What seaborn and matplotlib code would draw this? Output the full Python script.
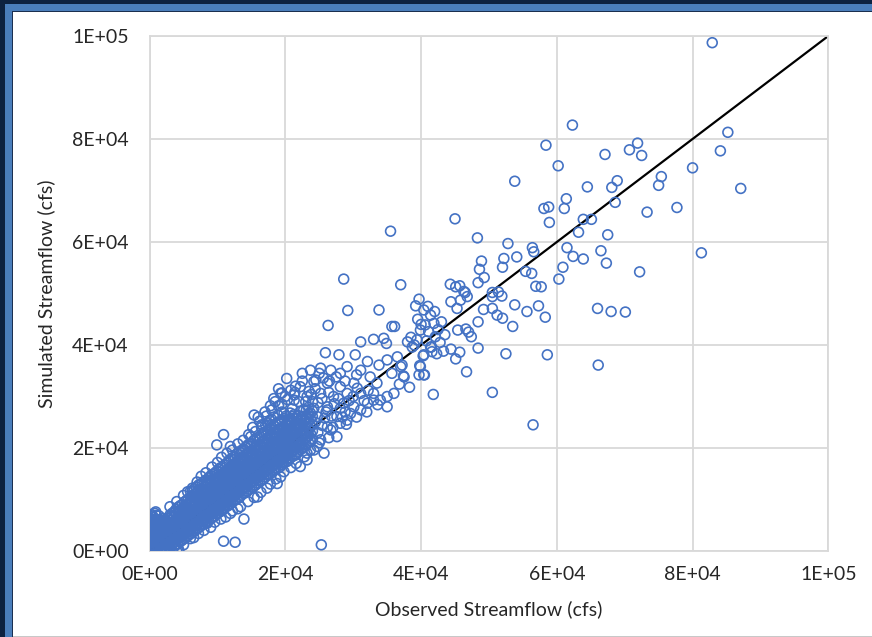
import numpy as np
import pandas as pd
import seaborn as sns
import matplotlib.pyplot as plt
from matplotlib.patches import Rectangle

# all flows in thousands of cfs, multiplied out before plotting

# dense band below ~12k: observed value of each column, simulated values in it
band_low_obs = [0.2, 0.6, 1.0, 1.5, 2.0, 2.5, 3.0, 3.6, 4.2, 4.8, 5.4,
                6.0, 6.6, 7.2, 7.8, 8.4, 9.0, 9.6, 10.2, 10.8, 11.4]
band_low_sim = [
    [0.1, 0.7, 1.5, 2.4, 3.3, 4.4, 5.3, 6.2, 7.1],
    [0.3, 1.1, 1.9, 2.7, 3.7, 4.6, 5.6, 6.5],
    [0.1, 0.8, 1.6, 2.3, 3.2, 4.2, 5.0, 5.9, 6.9],
    [0.2, 1.0, 2.0, 2.9, 3.9, 4.7, 5.7],
    [0.1, 0.9, 1.7, 2.8, 3.6, 4.5, 5.5, 6.3],
    [0.3, 1.2, 2.2, 3.1, 3.9, 4.9, 5.8],
    [0.4, 1.4, 2.2, 3.2, 4.1, 5.1, 6.0, 7.0],
    [0.8, 1.7, 2.8, 3.7, 4.8, 5.7, 6.7, 7.6],
    [1.4, 2.5, 3.4, 4.5, 5.4, 6.5, 7.4, 8.5],
    [2.1, 3.0, 4.1, 5.0, 6.1, 7.0, 8.1, 9.0],
    [2.6, 3.7, 4.6, 5.8, 6.7, 7.8, 8.6, 9.8],
    [3.3, 4.2, 5.4, 6.3, 7.4, 8.2, 9.4, 10.3],
    [3.8, 4.9, 5.8, 7.0, 7.9, 9.0, 9.8, 11.0, 12.1],
    [4.5, 5.4, 6.6, 7.5, 8.6, 9.5, 10.6, 11.5, 12.8],
    [5.1, 6.1, 7.0, 8.1, 9.0, 10.1, 11.1, 12.0, 13.3],
    [5.6, 6.7, 7.6, 8.7, 9.6, 10.7, 11.6, 12.8, 13.8],
    [6.3, 7.2, 8.3, 9.2, 10.3, 11.2, 12.3, 13.2, 14.6],
    [6.8, 7.9, 8.8, 9.9, 10.8, 11.9, 12.8, 14.0, 15.1],
    [7.5, 8.4, 9.5, 10.4, 11.5, 12.4, 13.5, 14.4, 15.9],
    [8.0, 9.1, 10.0, 11.1, 12.0, 13.1, 14.1, 15.1, 16.4],
    [8.7, 9.6, 10.7, 11.6, 12.7, 13.6, 14.7, 15.7, 17.1],
]

# dense band 12k - 24k
band_high_obs = [12.0, 12.6, 13.2, 13.8, 14.4, 15.0, 15.6, 16.2, 16.8, 17.4, 18.0,
                 18.6, 19.2, 19.8, 20.4, 21.0, 21.6, 22.2, 22.8, 23.4, 24.0]
band_high_sim = [
    [9.2, 10.3, 11.2, 12.3, 13.2, 14.3, 15.3, 16.3, 17.9],
    [9.9, 10.8, 11.9, 12.8, 13.9, 14.8, 15.9, 17.0, 18.3],
    [10.4, 11.6, 12.5, 13.6, 14.5, 15.6, 16.5, 17.8, 19.2],
    [11.2, 12.1, 13.2, 14.1, 15.2, 16.1, 17.2, 18.2, 19.7],
    [11.6, 12.8, 13.7, 14.8, 15.7, 16.8, 17.7, 19.0, 20.5],
    [12.4, 13.3, 14.4, 15.3, 16.4, 17.3, 18.4, 19.4, 20.9],
    [12.8, 14.0, 14.9, 16.0, 16.9, 18.0, 18.9, 20.2, 21.8],
    [13.6, 14.5, 15.6, 16.5, 17.6, 18.5, 19.6, 20.6, 22.2],
    [14.0, 15.2, 16.1, 17.2, 18.1, 19.2, 20.1, 21.4, 23.0],
    [14.8, 15.7, 16.8, 17.7, 18.8, 19.7, 20.8, 21.8, 23.4, 24.9],
    [15.2, 16.4, 17.3, 18.4, 19.3, 20.4, 21.3, 22.6, 24.0, 25.5],
    [16.0, 16.9, 18.0, 18.9, 20.0, 20.9, 22.0, 23.0, 24.7],
    [16.3, 17.5, 18.4, 19.5, 20.4, 21.5, 22.4, 23.7, 25.1],
    [17.1, 18.0, 19.1, 20.0, 21.1, 22.0, 23.1, 24.1, 25.7],
    [17.5, 18.8, 19.6, 20.8, 21.6, 22.8, 23.7, 25.1],
    [18.4, 19.3, 20.5, 21.3, 22.6, 23.5, 24.9, 26.1],
    [18.8, 20.1, 21.0, 22.2, 23.1, 24.5, 25.8],
    [19.7, 20.7, 22.1, 23.1, 24.5, 25.5, 27.1],
    [20.2, 21.7, 22.8, 24.2, 25.3],
    [21.1, 22.3, 23.9, 25.1, 26.7, 27.9],
    [21.7, 23.3, 24.5, 26.1, 27.2],
]

# second, staggered set of columns in the same band
band_mid_obs = [0.4, 0.8, 1.25, 1.75, 2.25, 2.75, 3.3, 3.9, 4.5, 5.1, 5.7,
                6.3, 6.9, 7.5, 8.1, 8.7, 9.3, 9.9, 10.5, 11.1, 11.7, 12.3,
                12.9, 13.5, 14.1, 14.7, 15.3, 15.9, 16.5, 17.1, 17.7, 18.3,
                18.9, 19.5, 20.1, 20.7, 21.3, 21.9, 22.5, 23.1, 23.7]
band_mid_sim = [
    [0.4, 1.2, 2.0, 2.9, 3.8, 4.8, 5.8, 6.8],
    [0.2, 1.0, 1.8, 2.6, 3.5, 4.4, 5.3, 6.2, 7.3],
    [0.5, 1.4, 2.5, 3.4, 4.4, 5.3, 6.1],
    [0.5, 1.4, 2.4, 3.3, 4.2, 5.1, 6.0],
    [0.5, 1.3, 2.4, 3.3, 4.2, 5.1, 6.0],
    [0.8, 1.7, 2.6, 3.6, 4.5, 5.4, 6.4],
    [1.0, 1.9, 2.8, 3.7, 4.7, 5.6, 6.6, 7.3],
    [1.2, 2.3, 3.2, 4.3, 5.2, 6.2, 7.2, 8.1],
    [1.8, 2.9, 3.9, 4.8, 5.9, 6.9, 7.8, 8.8],
    [2.4, 3.4, 4.5, 5.4, 6.5, 7.4, 8.4, 9.5],
    [3.0, 4.0, 5.0, 6.0, 7.1, 8.0, 9.1, 10.1],
    [3.6, 4.6, 5.6, 6.7, 7.7, 8.7, 9.7, 10.7, 11.6],
    [4.2, 5.2, 6.2, 7.2, 8.2, 9.3, 10.2, 11.3, 12.4],
    [4.8, 5.8, 6.8, 7.8, 8.8, 9.8, 10.9, 11.9, 13.0],
    [5.3, 6.4, 7.3, 8.4, 9.3, 10.4, 11.3, 12.4, 13.6],
    [6.0, 6.9, 8.0, 8.9, 10.0, 10.9, 12.0, 13.0, 14.2],
    [6.5, 7.6, 8.5, 9.6, 10.5, 11.6, 12.5, 13.6, 14.9],
    [7.2, 8.1, 9.2, 10.1, 11.2, 12.1, 13.2, 14.2, 15.5],
    [7.7, 8.8, 9.7, 10.8, 11.7, 12.8, 13.7, 14.8, 16.2],
    [8.4, 9.3, 10.4, 11.3, 12.4, 13.3, 14.4, 15.4, 16.8],
    [8.9, 10.0, 10.9, 12.0, 12.9, 14.0, 14.9, 16.0, 17.5],
    [9.6, 10.5, 11.6, 12.5, 13.6, 14.5, 15.6, 16.7, 18.2],
    [10.1, 11.2, 12.1, 13.2, 14.1, 15.2, 16.2, 17.4, 18.8],
    [10.8, 11.8, 12.8, 13.8, 14.8, 15.8, 16.9, 18.0, 19.5],
    [11.3, 12.4, 13.4, 14.4, 15.4, 16.4, 17.4, 18.6, 20.1],
    [12.0, 13.0, 14.0, 15.0, 16.0, 17.0, 18.1, 19.2, 20.8],
    [12.5, 13.6, 14.6, 15.6, 16.6, 17.7, 18.7, 19.9, 21.4],
    [13.2, 14.2, 15.2, 16.2, 17.2, 18.3, 19.3, 20.5, 22.0],
    [13.7, 14.8, 15.8, 16.8, 17.9, 18.9, 20.0, 21.1, 22.6, 24.0],
    [14.4, 15.4, 16.4, 17.4, 18.5, 19.5, 20.5, 21.7, 23.2, 24.4],
    [14.9, 16.0, 17.0, 18.0, 19.1, 20.1, 21.1, 22.3, 23.8, 25.3],
    [15.6, 16.6, 17.6, 18.7, 19.7, 20.7, 21.8, 23.0, 24.4, 26.0],
    [16.1, 17.2, 18.2, 19.2, 20.3, 21.3, 22.3, 23.5, 25.0, 26.4],
    [16.8, 17.8, 18.8, 19.8, 20.8, 21.8, 22.9, 24.0, 25.4, 27.0],
    [17.3, 18.4, 19.3, 20.4, 21.3, 22.4, 23.4, 24.6, 26.2],
    [18.0, 19.0, 20.1, 21.1, 22.1, 23.1, 24.3, 25.5, 26.8],
    [18.5, 19.7, 20.7, 21.8, 22.9, 24.0, 25.2, 26.5],
    [19.2, 20.4, 21.5, 22.6, 23.8, 24.9, 26.3],
    [19.9, 21.1, 22.4, 23.6, 24.8, 26.1],
    [20.6, 22.0, 23.3, 24.6, 25.9, 27.4],
    [21.4, 22.8, 24.2, 25.6, 26.8],
]

# ragged rings along the upper and lower edges of the band
rim_obs = [3.0, 4.0, 5.0, 6.0, 7.0, 7.6, 8.3, 9.2, 10.0, 10.6,
           11.4, 12.2, 13.0, 13.8, 14.6, 15.2, 16.2, 17.2, 18.0, 19.0,
           20.3, 21.4, 22.0, 23.8, 24.4, 25.6, 26.5, 27.5, 28.8, 30.5,
           5.0, 6.5, 7.2, 8.0, 9.0, 9.6, 10.5, 11.2, 12.2, 13.0,
           14.5, 15.4, 16.4, 17.8, 18.6, 19.8, 20.8, 21.6, 22.8, 24.2,
           25.0, 26.4, 27.0, 29.0, 30.5, 32.0, 33.6, 36.0, 36.8, 24.8,
           25.4, 25.8, 26.0, 26.8, 27.2, 27.8, 28.4, 28.8, 29.4, 30.0,
           30.6, 31.6, 32.2, 24.0, 24.8, 25.4, 26.4, 23.0, 24.4]
rim_sim = [8.6, 9.6, 10.8, 11.6, 13.4, 14.5, 15.2, 16.3, 17.2, 18.2,
           19.0, 19.6, 20.8, 21.5, 22.6, 24.0, 25.2, 26.2, 27.4, 28.2,
           29.4, 30.8, 29.0, 30.4, 31.5, 33.6, 33.0, 33.8, 33.0, 34.2,
           1.2, 2.6, 3.4, 4.0, 4.6, 5.6, 6.2, 6.6, 7.8, 8.2,
           9.6, 10.4, 11.4, 13.0, 14.0, 15.4, 16.2, 17.0, 18.3, 19.6,
           21.0, 22.0, 24.0, 24.6, 26.0, 27.0, 28.4, 30.6, 32.4, 23.0,
           24.4, 25.8, 27.0, 26.2, 28.6, 29.6, 26.0, 27.0, 29.2, 30.0,
           31.6, 29.2, 31.2, 29.0, 28.8, 29.6, 30.8, 26.0, 25.0]

# loose points around the band edges, up to ~36k
edge_obs = [0.9, 1.4, 6.0, 4.3, 10.9, 12.6, 13.9, 25.3, 15.4, 19.5,
            10.9, 9.9, 11.9, 15.6, 14.9, 6.3, 5.6, 17.3, 13.4, 8.5,
            4.1, 23.2, 23.2, 22.2, 18.8, 15.9, 11.9, 19.3, 17.0, 17.8,
            18.5, 19.5, 20.0, 20.8, 21.5, 19.0, 22.5, 23.5, 16.0, 16.5,
            19.8, 21.0, 23.0, 24.5, 25.0, 20.2, 22.5, 23.7, 25.2, 26.7,
            28.1, 29.1, 31.1, 32.5, 33.5, 30.1, 28.1, 26.2, 24.2, 22.2,
            21.3, 23.2, 25.2, 27.1, 29.1, 31.1, 33.0, 35.0, 34.0, 32.1,
            30.1, 28.1, 26.2, 24.2, 27.6, 29.1, 26.2, 27.6, 24.7, 25.7,
            21.3, 19.3, 18.3, 22.7, 24.7, 26.2, 28.6, 29.6, 31.1, 33.0,
            35.0, 28.1, 26.7, 25.2, 23.2, 21.8, 23.7]
edge_sim = [7.6, 6.8, 2.4, 0.2, 1.9, 1.7, 6.2, 1.2, 26.4, 30.7,
            22.6, 20.6, 20.3, 23.2, 22.2, 12.2, 11.5, 12.2, 8.6, 5.4,
            0.5, 17.7, 19.0, 16.4, 13.1, 10.5, 7.3, 14.4, 27.0, 28.2,
            29.0, 28.5, 30.0, 31.2, 32.0, 31.5, 33.0, 31.0, 26.0, 24.5,
            26.8, 27.6, 29.0, 33.2, 34.5, 33.5, 34.5, 35.1, 35.5, 35.1,
            34.5, 35.8, 35.1, 33.8, 32.6, 32.6, 31.9, 32.6, 32.9, 31.9,
            30.3, 30.0, 30.6, 30.0, 30.6, 30.6, 30.6, 30.0, 29.3, 28.7,
            28.0, 27.7, 28.0, 27.7, 26.1, 25.4, 24.1, 22.2, 20.3, 19.0,
            29.3, 30.6, 29.6, 27.4, 26.1, 27.4, 28.7, 26.7, 27.4, 29.3,
            28.0, 24.8, 23.5, 21.6, 22.9, 24.1, 19.6]

# 25k - 60k
mid_obs = [28.6, 29.2, 33.8, 26.3, 35.7, 36.1, 35.5, 39.7, 39.2, 40.4,
           41.4, 41.9, 40.6, 39.9, 41.1, 42.1, 31.1, 33.0, 34.5, 34.9,
           38.0, 38.7, 39.4, 41.4, 40.4, 41.6, 25.9, 27.9, 30.3, 32.1,
           33.8, 35.0, 36.5, 37.0, 35.7, 37.5, 39.9, 39.7, 40.4, 37.0,
           37.2, 37.4, 41.8, 38.3, 40.5, 39.8, 41.5, 40.3, 48.4, 44.4,
           43.3, 45.7, 45.1, 46.7, 50.5, 52.5, 58.6, 56.5, 53.5, 58.3,
           55.6, 57.3, 53.8, 52.0, 51.2, 50.5, 49.2, 48.4, 47.4, 47.0,
           46.6, 45.4, 48.4, 49.3, 48.6, 48.9, 52.0, 52.2, 54.1, 55.4,
           56.3, 56.4, 56.6, 56.9, 57.7, 50.5, 51.4, 51.9, 50.5, 44.3,
           45.1, 45.7, 46.3, 46.8, 45.8, 44.4, 45.3, 46.5, 45.0, 48.3,
           52.8, 53.8, 39.5, 40.0, 41.0, 42.0, 42.5, 43.0, 43.5, 42.8,
           39.0, 38.5, 40.8, 42.3]
mid_sim = [52.8, 46.7, 46.8, 43.8, 43.6, 43.6, 62.1, 48.9, 47.6, 46.8,
           45.8, 44.2, 43.9, 42.9, 42.6, 41.6, 40.6, 41.1, 41.3, 40.3,
           40.6, 39.6, 41.0, 39.6, 38.1, 38.7, 38.5, 38.1, 38.1, 36.8,
           36.1, 37.1, 37.7, 35.8, 34.5, 33.8, 35.8, 34.2, 34.2, 51.7,
           36.1, 34.0, 30.4, 31.8, 34.2, 36.0, 39.6, 37.9, 39.4, 39.2,
           38.8, 38.6, 37.3, 34.8, 30.8, 38.3, 38.1, 24.5, 43.6, 45.4,
           46.5, 47.6, 47.8, 45.2, 45.8, 47.1, 46.9, 44.5, 41.6, 42.5,
           43.1, 42.9, 52.1, 53.1, 54.7, 56.3, 55.1, 56.8, 57.1, 54.3,
           53.9, 58.9, 58.1, 51.4, 51.3, 50.2, 50.3, 49.5, 49.4, 51.8,
           51.3, 51.5, 50.4, 49.4, 48.7, 48.4, 47.1, 50.2, 64.5, 60.8,
           59.7, 71.8, 45.0, 44.0, 47.5, 46.5, 43.0, 44.5, 42.0, 40.5,
           40.0, 41.5, 40.8, 38.3]

# highest flows
high_obs = [62.3, 58.4, 60.2, 58.1, 58.8, 58.9, 61.4, 61.1, 64.5, 67.1,
            70.7, 71.9, 72.5, 68.9, 68.1, 68.6, 63.9, 65.1, 63.2, 67.5,
            61.5, 62.4, 63.9, 66.5, 67.3, 60.9, 60.3, 72.2, 73.3, 75.4,
            75.0, 77.7, 80.0, 84.1, 85.2, 87.1, 81.3, 66.0, 68.0, 70.1,
            66.1, 82.9]
high_sim = [82.7, 78.8, 74.8, 66.5, 66.8, 63.8, 68.4, 66.5, 70.7, 77.0,
            77.9, 79.2, 76.8, 71.9, 70.6, 67.7, 64.4, 64.4, 61.9, 61.4,
            58.9, 57.2, 56.7, 58.3, 55.9, 55.1, 52.8, 54.2, 65.8, 72.7,
            71.0, 66.7, 74.4, 77.7, 81.3, 70.4, 57.9, 47.1, 46.5, 46.4,
            36.1, 98.7]

ticks = [0, 20000, 40000, 60000, 80000, 100000]

obs, sim = [], []
for x, ys in zip(band_low_obs + band_high_obs + band_mid_obs,
                 band_low_sim + band_high_sim + band_mid_sim):
    obs += [x] * len(ys)
    sim += ys
obs += rim_obs + edge_obs + mid_obs + high_obs
sim += rim_sim + edge_sim + mid_sim + high_sim
df = pd.DataFrame({'observed': np.array(obs) * 1000, 'simulated': np.array(sim) * 1000})

sns.set_style('white')
plt.rcParams['font.family'] = ['Lato', 'DejaVu Sans']

W, H = 872, 637
fig = plt.figure(figsize=(W / 100, H / 100), dpi=100)
fig.patch.set_facecolor('white')

def px_rect(x0, y0, x1, y1, color):
    fig.add_artist(Rectangle((x0 / W, 1 - y1 / H), (x1 - x0) / W, (y1 - y0) / H,
                             transform=fig.transFigure, color=color, lw=0, zorder=-5))

# dark/blue frame along the top and left edges
px_rect(0, 0, W, 4, '#0D2240')
px_rect(0, 0, 5, H, '#0D2240')
px_rect(5, 4, W, 11, '#4A7EBB')
px_rect(5, 4, 12, H, '#4A7EBB')
px_rect(12, 11, W, 12, '#1B2F4F')
px_rect(12, 11, 13, H, '#1B2F4F')
px_rect(13, 635.5, W, 637, '#C8C8C8')

ax = fig.add_axes([149.6 / W, 1 - 551 / H, (828.3 - 149.6) / W, (551 - 36) / H])
ax.plot([0, 100000], [0, 100000], color='black', lw=1.6, zorder=2)
sns.scatterplot(data=df, x='observed', y='simulated', ax=ax, marker='o', s=50,
                facecolor='none', edgecolor='#4472C4', linewidth=1.2, zorder=3)

ax.set_xlim(0, 100000)
ax.set_ylim(0, 100000)
ax.set_xticks(ticks)
ax.set_yticks(ticks)
ax.set_xticklabels([f'{t:.0E}' for t in ticks])
ax.set_yticklabels([f'{t:.0E}' for t in ticks])
ax.tick_params(length=0, labelsize=14, colors='#262626')
ax.tick_params(axis='y', pad=15)
ax.tick_params(axis='x', pad=11)
ax.grid(True, color='#D9D9D9', lw=1.3)
ax.set_axisbelow(True)
for sp in ax.spines.values():
    sp.set_color('#D9D9D9')
    sp.set_linewidth(1.3)

ax.set_xlabel('Observed Streamflow (cfs)', fontsize=14, color='#262626', labelpad=12)
ax.set_ylabel('Simulated Streamflow (cfs)', fontsize=14, color='#262626', labelpad=12)

fig.savefig('out.png', dpi=100)
